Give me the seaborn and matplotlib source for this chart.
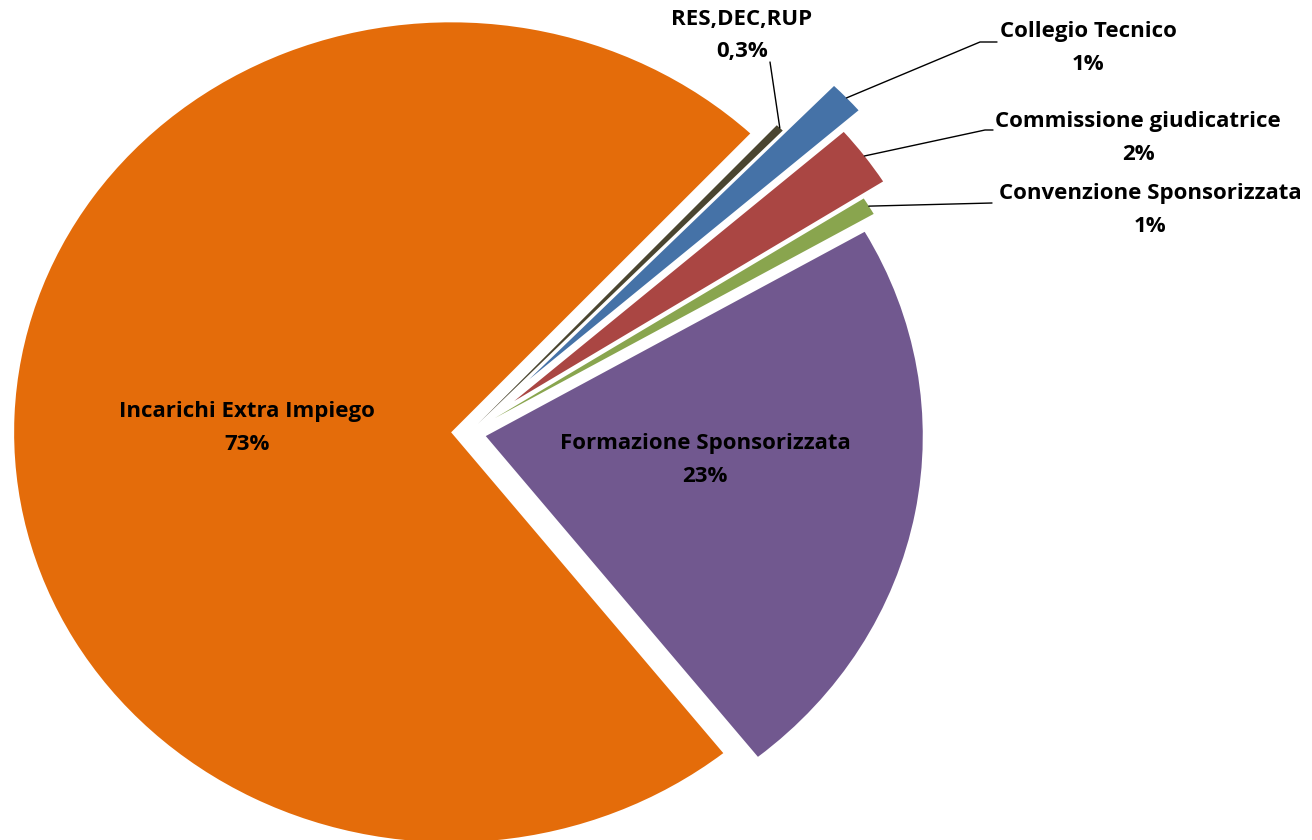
import matplotlib
matplotlib.use("Agg")
import matplotlib.pyplot as plt
import seaborn as sns
import numpy as np

# ---- data ----
categories = ["RES,DEC,RUP", "Collegio Tecnico", "Commissione giudicatrice",
              "Convenzione Sponsorizzata", "Formazione Sponsorizzata",
              "Incarichi Extra Impiego"]
values = [0.3, 1.3, 2.4, 0.7, 22.6, 72.7]
pct_labels = ["0,3%", "1%", "2%", "1%", "23%", "73%"]
colors = ["#4A4530", "#4572A7", "#AA4643", "#89A54E", "#71588F", "#E46C0A"]
explode = [0.03, 0.19, 0.13, 0.07, 0.04, 0.04]

sns.set_theme(style="white")
plt.rcParams['font.family'] = ['Open Sans', 'DejaVu Sans']

W, H = 1312, 840
CX, CY = 468.6, 433.0
RX, RY = 437.0, 410.0


def px2d(px, py):
    return ((px - CX) / RX, (CY - py) / RY)


fig = plt.figure(figsize=(W / 100, H / 100), dpi=100)
ax = fig.add_axes([0, 0, 1, 1])
wedges, _ = ax.pie(values, colors=colors, explode=explode, startangle=46.8,
                   counterclock=False, wedgeprops=dict(linewidth=0))
ax.set_aspect('auto')
ax.set_xlim(px2d(0, 0)[0], px2d(W, 0)[0])
ax.set_ylim(px2d(0, H)[1], px2d(0, 0)[1])
ax.axis('off')

FS = 16
LINE_GAP = 33  # px between name and percentage

# internal labels (name center px)
internal = {4: (705, 443), 5: (247, 412)}
for i, (px, py) in internal.items():
    ax.text(*px2d(px, py), categories[i], ha='center', va='center',
            fontsize=FS, fontweight='bold', color='black')
    ax.text(*px2d(px, py + LINE_GAP), pct_labels[i], ha='center', va='center',
            fontsize=FS, fontweight='bold', color='black')

# external labels: name center px, leader-line elbow points px
external = {
    0: ((742, 19), [(770, 62)]),
    1: ((1088, 31), [(980, 42), (997, 42)]),
    2: ((1138, 121), [(985, 130), (993, 130)]),
    3: ((1150, 194), [(992, 203)]),
}
for i, ((px, py), elbows) in external.items():
    w = wedges[i]
    th = np.deg2rad((w.theta1 + w.theta2) / 2)
    cx, cy = w.center
    start = (cx + w.r * np.cos(th), cy + w.r * np.sin(th))
    pts = [start] + [px2d(*e) for e in elbows]
    xs, ys = zip(*pts)
    ax.plot(xs, ys, color='black', lw=1.0)
    ax.text(*px2d(px, py), categories[i], ha='center', va='center',
            fontsize=FS, fontweight='bold', color='black')
    ax.text(*px2d(px, py + LINE_GAP), pct_labels[i], ha='center', va='center',
            fontsize=FS, fontweight='bold', color='black')

fig.savefig("out.png", dpi=100, facecolor='white')
